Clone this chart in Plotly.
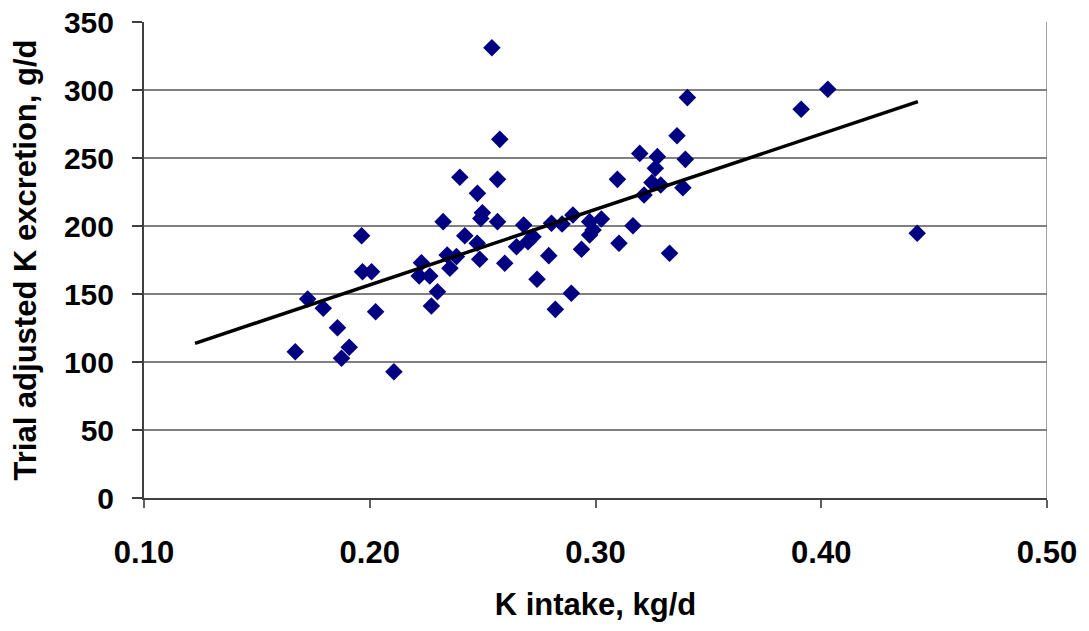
import plotly.graph_objects as go

# K intake (kg/d) and trial-adjusted K excretion (g/d) per observation
k_intake = [
    0.1670, 0.1725, 0.1794, 0.1857, 0.1875, 0.1909, 0.1964, 0.1968, 0.2008, 0.2026,
    0.2107, 0.2229, 0.2219, 0.2266, 0.2300, 0.2273, 0.2325, 0.2343, 0.2355, 0.2384,
    0.2399, 0.2421, 0.2541, 0.3407, 0.2576, 0.3361, 0.3196, 0.3274, 0.3398, 0.3265,
    0.2566, 0.3097, 0.3250, 0.3289, 0.3387, 0.2477, 0.3215, 0.2499, 0.2492, 0.2566,
    0.2682, 0.2805, 0.2852, 0.2900, 0.2974, 0.3026, 0.3166, 0.2989, 0.2974, 0.2723,
    0.2701, 0.2650, 0.2476, 0.2487, 0.2598, 0.2793, 0.2938, 0.3104, 0.3328, 0.2741,
    0.2893, 0.2822, 0.4029, 0.3911, 0.4425,
]
k_excretion = [
    107.6, 146.3, 139.5, 125.2, 102.7, 110.8, 192.9, 166.4, 166.4, 137.0,
    92.9, 173.0, 163.2, 163.2, 151.7, 141.2, 203.2, 178.7, 168.9, 177.5,
    235.8, 192.9, 331.1, 294.4, 263.7, 266.4, 253.4, 251.0, 249.0, 242.4,
    234.3, 234.3, 231.9, 230.1, 228.2, 224.0, 222.8, 209.8, 205.6, 203.2,
    200.7, 202.0, 201.5, 208.1, 203.2, 205.1, 200.2, 197.1, 193.4, 192.1,
    188.5, 184.8, 187.3, 175.5, 172.6, 178.2, 182.9, 187.3, 179.9, 160.8,
    150.5, 138.7, 300.5, 285.8, 194.6,
]

# Linear trend line: excretion = slope * intake + intercept
trend_slope = 555.0
trend_intercept = 45.7
trend_x = [0.1226, 0.4428]
trend_y = [trend_slope * x + trend_intercept for x in trend_x]

x_ticks = [0.10, 0.20, 0.30, 0.40, 0.50]
y_ticks = [0, 50, 100, 150, 200, 250, 300, 350]

FONT = "Liberation Sans, Arial, sans-serif"

fig = go.Figure()
fig.add_trace(go.Scatter(
    x=k_intake, y=k_excretion, mode="markers",
    marker=dict(symbol="diamond", size=13.5, color="#000080", line=dict(width=0)),
    showlegend=False, hoverinfo="x+y",
))
fig.add_trace(go.Scatter(
    x=trend_x, y=trend_y, mode="lines",
    line=dict(color="black", width=3.5),
    showlegend=False, hoverinfo="skip",
))

# right-hand border of the plot area
fig.add_shape(type="line", xref="x", yref="y", x0=0.5, x1=0.5, y0=0, y1=350,
              line=dict(color="#808080", width=1.5), layer="below")

fig.update_layout(
    width=1089, height=631,
    margin=dict(l=144, r=42, t=22, b=133, autoexpand=False),
    paper_bgcolor="white", plot_bgcolor="white",
    font=dict(family=FONT, color="black"),
    xaxis=dict(
        range=[0.1, 0.5], tickvals=x_ticks,
        ticktext=[f"{v:.2f}" for v in x_ticks],
        showgrid=False, zeroline=False,
        showline=True, linecolor="#404040", linewidth=2,
        ticks="outside", ticklen=8, tickwidth=1.5, tickcolor="#606060",
        tickfont=dict(family=FONT, size=31, color="black", weight="bold"),
        ticklabelstandoff=18,
        title=dict(text="<b>K intake, kg/d</b>", font=dict(family=FONT, size=31),
                   standoff=24),
    ),
    yaxis=dict(
        range=[0, 350], tickvals=y_ticks,
        showgrid=True, gridcolor="#808080", gridwidth=1.5,
        zeroline=False,
        showline=True, linecolor="#404040", linewidth=2,
        ticks="outside", ticklen=10, tickwidth=1.5, tickcolor="#404040",
        tickfont=dict(family=FONT, size=30, color="black", weight="bold"),
        ticklabelstandoff=12,
        title=dict(text="<b>Trial adjusted K excretion, g/d</b>",
                   font=dict(family=FONT, size=31), standoff=18),
    ),
)

fig.write_html("out.html")
